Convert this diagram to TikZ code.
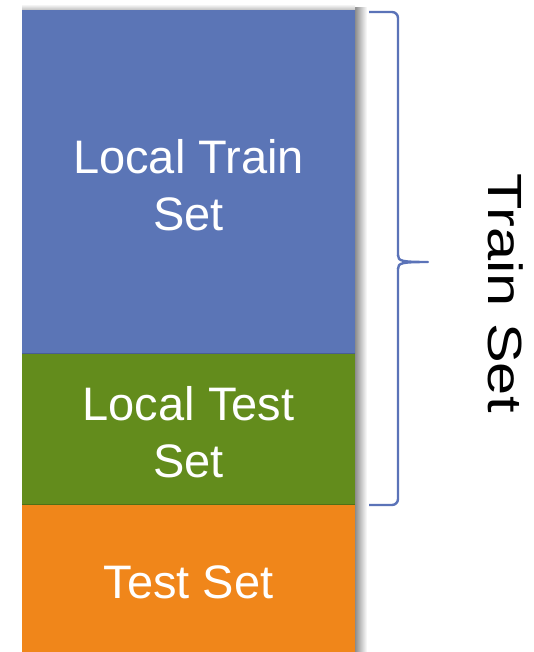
\documentclass[tikz,border=0pt]{standalone}
\usepackage{fontspec}
\setmainfont{Liberation Sans}
\definecolor{trainblue}{HTML}{5B75B6}
\definecolor{testgreen}{HTML}{638C1C}
\definecolor{testorange}{HTML}{F0861A}
\definecolor{bracecol}{HTML}{5B73B8}
\begin{document}
\begin{tikzpicture}[x=1pt,y=-1pt,
  label/.style={text=white,font=\fontsize{47}{57}\selectfont,align=center,inner sep=0pt,anchor=base},
  bracepath/.style={draw=bracecol,line width=2.4pt,line join=round}]
\useasboundingbox (0,0) rectangle (534,652);
% soft shadow to the right of the stack and above its top
\shade[left color=black!45,right color=white] (355,8) rectangle (367,652);
\shade[bottom color=black!25,top color=white] (22,4) rectangle (355,10);
% the three blocks
\fill[trainblue] (22,10) rectangle (355,353);
\fill[testgreen] (22,353) rectangle (355,504);
\fill[testorange] (22,504) rectangle (355,652);
\draw[trainblue!80!black,line width=1pt] (22,353) -- (355,353);
\draw[testgreen!80!black,line width=1pt] (22,504) -- (355,504);
% labels (base anchor sits on the last line)
\node[label] (ltrain) at (188.5,230) {Local Train\\Set};
\node[label] (ltest) at (188.5,477) {Local Test\\Set};
\node[label] (test) at (188.5,598) {Test Set};
% brace spanning the train part
\coordinate (btop) at (369,12);
\coordinate (bbot) at (369,505);
\coordinate (btip) at (428,262);
\draw[bracepath,rounded corners=6pt] (btop) -- (398,12) -- (398,256);
\draw[bracepath] (398,255) .. controls (398,261) and (401,262) .. (btip)
  .. controls (401,262) and (398,263) .. (398,269);
\draw[bracepath,rounded corners=6pt] (398,268) -- (398,505) -- (bbot);
\node[font=\fontsize{48}{57}\selectfont,rotate=-90,inner sep=0pt,anchor=base] (trainset) at (488,293) {\scalebox{1.24}[1]{Train Set}};
\end{tikzpicture}
\end{document}
